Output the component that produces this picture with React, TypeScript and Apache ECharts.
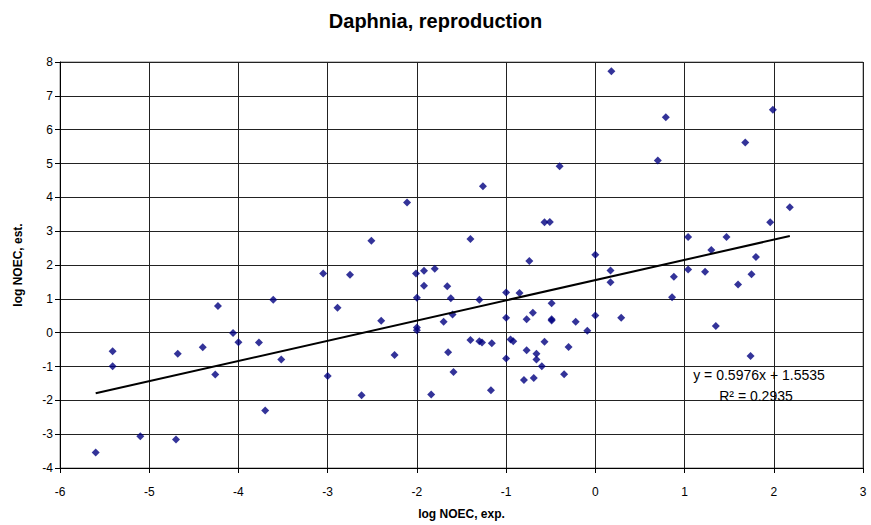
import React, { useEffect, useRef } from "react";
import * as echarts from "echarts";

// log NOEC, experimental (x) and estimated (y) for Daphnia reproduction
const expValues: number[] = [
  -5.6, -5.41, -5.41, -5.1, -4.7, -4.68, -4.4, -4.26, -4.23, -4.06, -4.0, -3.77,
  -3.7, -3.61, -3.52, -3.05, -3.0, -2.89, -2.75, -2.62, -2.51, -2.4, -2.25, -2.11,
  -2.01, -2.0, -2.0, -2.0, -1.92, -1.92, -1.84, -1.8, -1.7, -1.66, -1.65, -1.62,
  -1.6, -1.59, -1.4, -1.4, -1.3, -1.3, -1.27, -1.26, -1.17, -1.16, -1.0, -1.0,
  -1.0, -0.95, -0.92, -0.85, -0.8, -0.77, -0.77, -0.74, -0.7, -0.69, -0.66, -0.66,
  -0.6, -0.57, -0.57, -0.51, -0.49, -0.49, -0.49, -0.4, -0.35, -0.3, -0.22, -0.09,
  0.0, 0.0, 0.17, 0.17, 0.18, 0.29, 0.7, 0.79, 0.86, 0.88, 1.04, 1.04,
  1.23, 1.3, 1.35, 1.47, 1.6, 1.68, 1.74, 1.75, 1.8, 1.96, 1.99, 2.18,
];
const estValues: number[] = [
  -3.54, -0.55, -0.99, -3.06, -3.16, -0.62, -0.43, -1.24, 0.79, -0.01, -0.28, -0.29,
  -2.3, 0.97, -0.79, 1.75, -1.28, 0.74, 1.71, -1.85, 2.72, 0.35, -0.66, 3.85,
  1.75, 1.03, 0.15, 0.07, 1.83, 1.39, -1.83, 1.89, 0.32, 1.37, -0.58, 1.02,
  0.54, -1.16, 2.77, -0.22, 0.97, -0.25, -0.29, 4.33, -1.7, -0.31, 1.19, 0.44,
  -0.76, -0.2, -0.25, 1.17, -1.4, 0.4, -0.52, 2.12, 0.59, -1.34, -0.62, -0.79,
  -0.99, 3.26, -0.27, 3.27, 0.87, 0.4, 0.36, 4.92, -1.23, -0.42, 0.32, 0.06,
  2.3, 0.51, 1.84, 1.49, 7.73, 0.44, 5.09, 6.37, 1.05, 1.65, 2.83, 1.87,
  1.8, 2.44, 0.2, 2.83, 1.42, 5.62, -0.69, 1.73, 2.24, 3.26, 6.59, 3.71,
];

// Linear trend line coefficients
const slope = 0.5976;
const intercept = 1.5535;
const rSquared = 0.2935;

const xTicks = { min: -6, max: 3, interval: 1 };
const yTicks = { min: -4, max: 8, interval: 1 };

const FONT = "Liberation Sans, Arial, sans-serif";

export default function App() {
  const ref = useRef<HTMLDivElement>(null);

  useEffect(() => {
    if (!ref.current) return;
    const chart = echarts.init(ref.current, null, { renderer: "svg" });

    const points = expValues.map((x, i) => [x, estValues[i]]);
    const xMin = Math.min(...expValues);
    const xMax = Math.max(...expValues);
    const trend = [
      [xMin, slope * xMin + intercept],
      [xMax, slope * xMax + intercept],
    ];

    const axisText = { color: "#000", fontFamily: FONT, fontSize: 12 };

    chart.setOption({
      animation: false,
      backgroundColor: "#fff",
      title: {
        text: "Daphnia, reproduction",
        left: "center",
        top: 11,
        padding: 0,
        textStyle: { fontFamily: FONT, fontSize: 20, fontWeight: "bold", color: "#000" },
      },
      grid: {
        left: 60,
        right: 8,
        top: 62,
        bottom: 57,
        show: true,
        borderColor: "#808080",
        borderWidth: 1,
        backgroundColor: "transparent",
      },
      xAxis: {
        type: "value",
        min: xTicks.min,
        max: xTicks.max,
        interval: xTicks.interval,
        name: "log NOEC, exp.",
        nameLocation: "middle",
        nameGap: 40,
        nameTextStyle: { fontFamily: FONT, fontSize: 12, fontWeight: "bold", color: "#000" },
        axisLine: { show: true, onZero: false, lineStyle: { color: "#000", width: 1 } },
        axisTick: { show: true, inside: false, length: 5, lineStyle: { color: "#000" } },
        axisLabel: { ...axisText, margin: 18 },
        splitLine: { show: true, lineStyle: { color: "#222", width: 1 } },
      },
      yAxis: {
        type: "value",
        min: yTicks.min,
        max: yTicks.max,
        interval: yTicks.interval,
        name: "log NOEC, est.",
        nameLocation: "middle",
        nameGap: 36,
        nameTextStyle: { fontFamily: FONT, fontSize: 12, fontWeight: "bold", color: "#000" },
        axisLine: { show: true, onZero: false, lineStyle: { color: "#000", width: 1 } },
        axisTick: { show: true, inside: false, length: 5, lineStyle: { color: "#000" } },
        axisLabel: { ...axisText, margin: 7 },
        splitLine: { show: true, lineStyle: { color: "#222", width: 1 } },
      },
      series: [
        {
          type: "scatter",
          data: points,
          symbol: "diamond",
          symbolSize: 8,
          itemStyle: { color: "#000080" },
          z: 3,
        },
        {
          type: "line",
          data: trend,
          showSymbol: false,
          symbol: "none",
          lineStyle: { color: "#000", width: 2 },
          z: 4,
        },
      ],
      graphic: [
        {
          type: "text",
          x: 759,
          y: 375,
          style: {
            text: `y = ${slope}x + ${intercept}`,
            fontFamily: FONT,
            fontSize: 14,
            fill: "#000",
            align: "center",
            verticalAlign: "middle",
          },
          z: 10,
        },
        {
          type: "text",
          x: 756,
          y: 396,
          style: {
            text: `R\u00B2 = ${rSquared}`,
            fontFamily: FONT,
            fontSize: 14,
            fill: "#000",
            align: "center",
            verticalAlign: "middle",
          },
          z: 10,
        },
      ],
    });

    return () => chart.dispose();
  }, []);

  return (
    <div
      ref={ref}
      style={{ position: "fixed", left: 0, top: 0, width: 871, height: 525, background: "#fff" }}
    />
  );
}
